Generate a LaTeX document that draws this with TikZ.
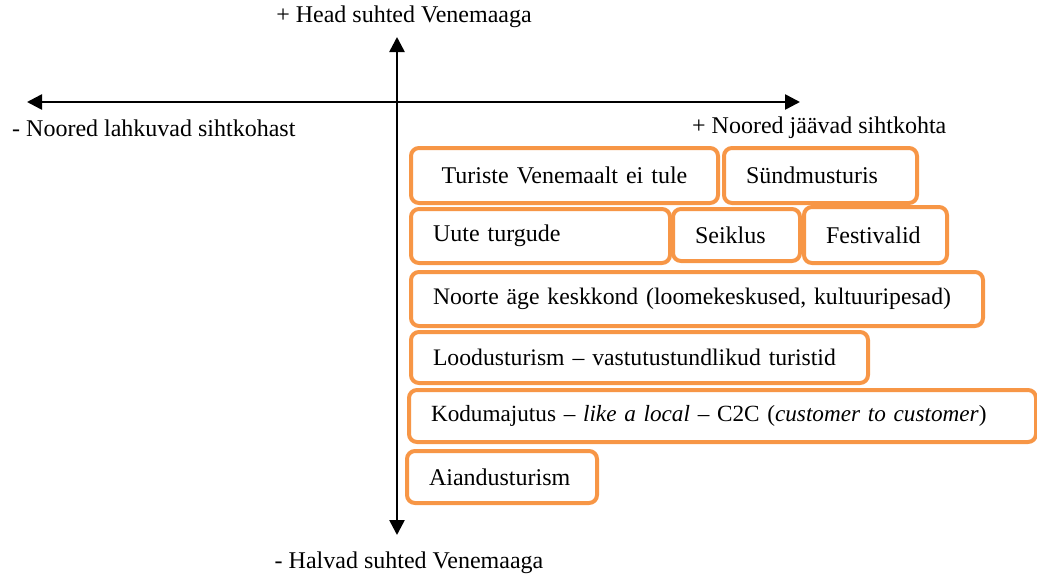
\documentclass[tikz,border=0pt]{standalone}
\usepackage{fontspec}
\setmainfont{Liberation Serif}
\usetikzlibrary{positioning, arrows.meta}
\definecolor{boxorange}{HTML}{F79646}

\begin{document}
\begin{tikzpicture}[x=1pt, y=-1pt, font=\fontsize{24}{28}\selectfont,
  axis/.style = {line width=2.6pt, {Triangle[width=15pt,length=15pt]}-{Triangle[width=15pt,length=15pt]}},
  lbl/.style = {inner sep=0pt},
  idea/.style = {draw=boxorange, line width=4pt, rounded corners=8pt, fill=white,
                 anchor=north west, inner xsep=22pt, inner ysep=0pt, align=left}]
\useasboundingbox (0,0) rectangle (1037,576);
% axes
\coordinate (ytop) at (397,37);
\coordinate (ybot) at (397,535);
\coordinate (xleft) at (27,102);
\coordinate (xright) at (800,102);
\draw[axis] (ybot) -- (ytop);
\draw[axis] (xleft) -- (xright);
\node[lbl] (headp) at (404,17) {+ Head suhted Venemaaga};
\node[lbl] (halvm) at (409,563) {- Halvad suhted Venemaaga};
\node[lbl, anchor=west] (lahk) at (12,128) {- Noored lahkuvad sihtkohast};
\node[lbl, anchor=west] (jaav) at (692,128) {+ Noored jäävad sihtkohta};
% boxes
\node[idea, text width=263pt, minimum height=55pt, align=center] (turiste) at (409,146) {Turiste Venemaalt ei tule};
\node[idea, text width=149pt, minimum height=55pt] (syndmus) at (722,146) {Sündmusturis};
\node[idea, text width=215pt, minimum height=54pt] (uute) at (409,207) {Uute turgude};
\node[idea, text width=83pt, minimum height=52pt] (seiklus) at (671,207) {Seiklus};
\node[idea, text width=99pt, minimum height=56pt] (festivalid) at (802,205) {Festivalid};
\node[idea, text width=528pt, minimum height=54pt, font=\fontsize{23.7}{28}\selectfont] (noorte) at (409,270) {Noorte äge keskkond (loomekeskused, kultuuripesad)};
\node[idea, text width=413pt, minimum height=51pt, font=\fontsize{23.7}{28}\selectfont] (loodus) at (409,330) {Loodusturism -- vastutustundlikud turistid};
\node[idea, text width=583pt, minimum height=52pt, font=\fontsize{23.2}{28}\selectfont] (kodu) at (407,388) {Kodumajutus -- \textit{like a local} -- C2C (\textit{customer to customer})};
\node[idea, text width=146pt, minimum height=52pt] (aiandus) at (405,449) {Aiandusturism};
\end{tikzpicture}
\end{document}
